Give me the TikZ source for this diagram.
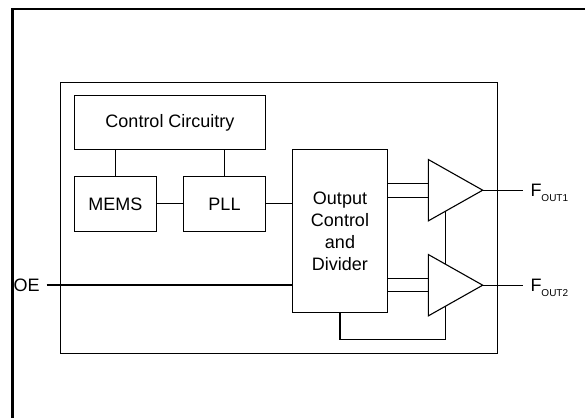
\documentclass[tikz,border=0pt]{standalone}
\usepackage{fontspec}
\setmainfont{Liberation Sans}
\usetikzlibrary{shapes.geometric, positioning, calc}

\begin{document}
\begin{tikzpicture}[
    x=0.5pt, y=-0.5pt,
    font=\fontsize{9}{11}\selectfont,
    blk/.style={rectangle, draw, line width=0.55pt, minimum width=41.2pt, minimum height=27.2pt,
                inner sep=0pt, outer sep=0pt, align=center},
    amp/.style={isosceles triangle, isosceles triangle stretches, draw, line width=0.55pt,
                minimum width=30.7pt, minimum height=27.2pt, inner sep=0pt, outer sep=0pt},
    wire/.style={line width=0.55pt},
    lbl/.style={inner sep=0pt},
]
\useasboundingbox (0,0) rectangle (585,418);

% -- cell border --
\draw[line width=1.2pt] (12.5,418) -- (12.5,9) -- (585,9);

% -- chip outline --
\node[rectangle, draw, line width=0.6pt, minimum width=218.4pt, minimum height=135.4pt] (chip) at (278.7,217.7) {};

% -- oscillator core --
\node[blk, minimum width=95.7pt, minimum height=27pt] (ctrl) at (170,122.7) {Control Circuitry};
\node[blk, below=13.5pt of ctrl.south west, anchor=north west] (mems) {MEMS};
\node[blk, right=13.3pt of mems] (pll) {PLL};
\node[blk, minimum width=47.7pt, minimum height=81.3pt, anchor=north west]
    (outdiv) at ($(pll.east |- ctrl.south)+(13.3pt,0)$) {Output\\Control\\and\\Divider};

% -- output drivers --
\node[amp, right=20.3pt of outdiv.north east, yshift=-20.25pt] (amp1) {};
\node[amp, anchor=west] (amp2) at ($(amp1.west)+(0,-47.5pt)$) {};

% -- pins --
\node[lbl, anchor=east] (oe) at (40,285) {OE};
\node[lbl, right=23.7pt of amp1.apex, anchor=base west, yshift=-3.2pt] (fout1)
    {F\raisebox{-2.3pt}{\fontsize{5}{6}\selectfont OUT1}};
\node[lbl, right=23.7pt of amp2.apex, anchor=base west, yshift=-3.2pt] (fout2)
    {F\raisebox{-2.3pt}{\fontsize{5}{6}\selectfont OUT2}};

% -- wires --
\draw[wire] (mems.north) -- (mems.north |- ctrl.south);
\draw[wire] (pll.north) -- (pll.north |- ctrl.south);
\draw[wire] (mems.east) -- (pll.west);
\draw[wire] (pll.east) -- (pll.east -| outdiv.west);
\draw[wire] ([xshift=3.3pt]oe.east) -- (oe.east -| outdiv.west);
\draw[wire] ([yshift=3.5pt]amp1.west -| outdiv.east) -- ([yshift=3.5pt]amp1.west);
\draw[wire] ([yshift=-3.5pt]amp1.west -| outdiv.east) -- ([yshift=-3.5pt]amp1.west);
\draw[wire] ([yshift=3.3pt]amp2.west -| outdiv.east) -- ([yshift=3.3pt]amp2.west);
\draw[wire] ([yshift=-3.3pt]amp2.west -| outdiv.east) -- ([yshift=-3.3pt]amp2.west);
\draw[wire] (amp1.apex) -- ([xshift=-3.7pt]fout1.west |- amp1.apex);
\draw[wire] (amp2.apex) -- ([xshift=-3.7pt]fout2.west |- amp2.apex);
\draw[wire] ($(amp1.right corner)!0.32!(amp1.apex)$) -- ($(amp2.left corner)!0.32!(amp2.apex)$);
\draw[wire] (outdiv.south) -- ++(0,-13.6pt) -| ($(amp2.right corner)!0.32!(amp2.apex)$);

\end{tikzpicture}
\end{document}
